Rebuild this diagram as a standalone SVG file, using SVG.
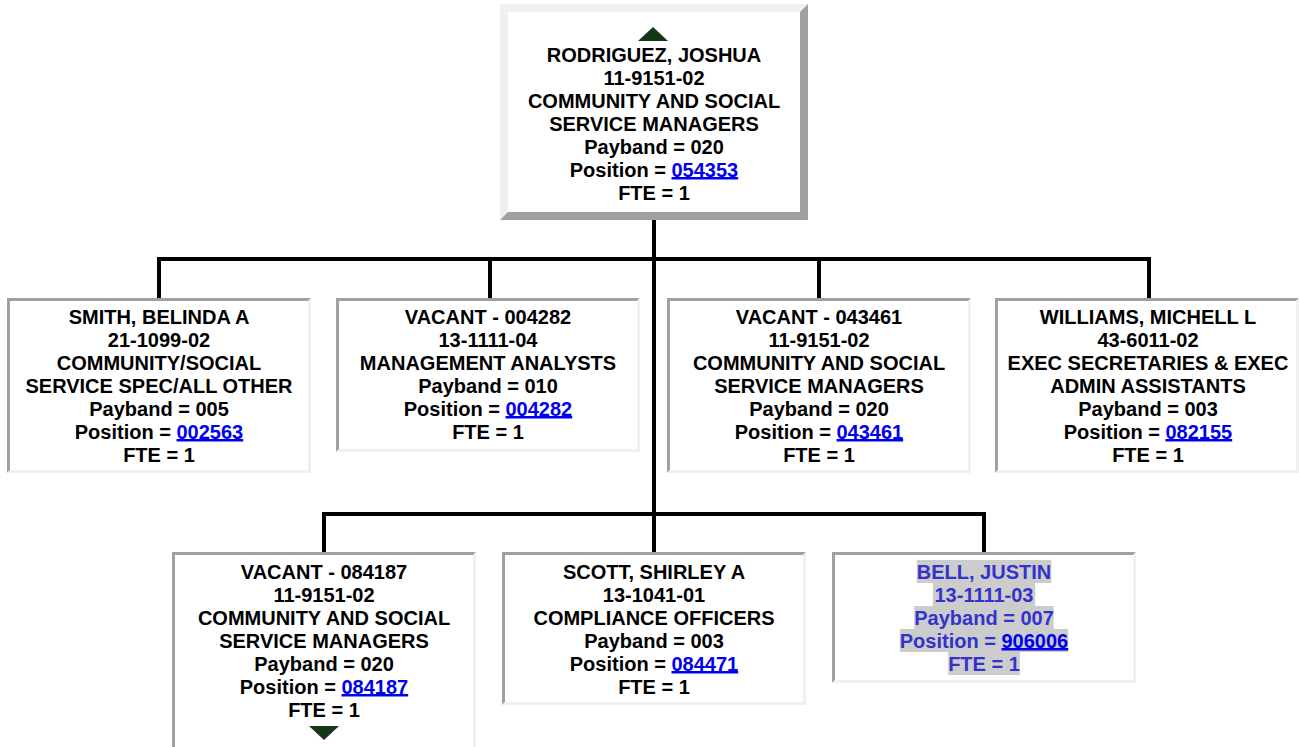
<svg xmlns="http://www.w3.org/2000/svg" width="1299" height="747" viewBox="0 0 1299 747">
<style>
.t{font-family:"Liberation Sans",Arial,Helvetica,sans-serif;font-weight:bold;font-size:20px;text-anchor:middle;fill:#000}
.lnk{fill:#0000ee}
.ul{fill:#0000ee}
.dk{fill:#a0a0a0}
.lt{fill:#f0f0f0}
.bg{fill:#ffffff}
.conn{stroke:#000;stroke-width:4;fill:none}
.tri{fill:#163616}
.bt{fill:#3333cc}
.hl{fill:#cccccc}
</style>
<rect width="1299" height="747" fill="#ffffff"/>
<g id="connectors">
<path class="conn" d="M159,298 V259 H1149 V298"/>
<path class="conn" d="M490,259 V298"/>
<path class="conn" d="M819,259 V298"/>
<path class="conn" d="M654,220 V552"/>
<path class="conn" d="M324,552 V514 H984 V552"/>
</g>
<g id="node-rodriguez">
<rect class="bg" x="508" y="12" width="292" height="200"/>
<path class="lt" d="M500,4 H808 L800,12 H508 V212 L500,220 Z"/>
<path class="dk" d="M808,4 V220 H500 L508,212 H800 V12 Z"/>
<polygon class="tri" points="653,27 638,41 668,41"/>
<text class="t" x="654" y="62">RODRIGUEZ, JOSHUA</text>
<text class="t" x="654" y="85">11-9151-02</text>
<text class="t" x="654" y="108">COMMUNITY AND SOCIAL</text>
<text class="t" x="654" y="131">SERVICE MANAGERS</text>
<text class="t" x="654" y="154">Payband = 020</text>
<text class="t" x="654" y="177">Position = <tspan class="lnk">054353</tspan></text>
<rect class="ul" x="671.5" y="177" width="66.7" height="2.5"/>
<text class="t" x="654" y="200">FTE = 1</text>
</g>
<g id="node-smith">
<rect class="bg" x="10" y="301" width="298" height="169"/>
<path class="dk" d="M7,298 H311 L308,301 H10 V470 L7,473 Z"/>
<path class="lt" d="M311,298 V473 H7 L10,470 H308 V301 Z"/>
<text class="t" x="159" y="324">SMITH, BELINDA A</text>
<text class="t" x="159" y="347">21-1099-02</text>
<text class="t" x="159" y="370">COMMUNITY/SOCIAL</text>
<text class="t" x="159" y="393">SERVICE SPEC/ALL OTHER</text>
<text class="t" x="159" y="416">Payband = 005</text>
<text class="t" x="159" y="439">Position = <tspan class="lnk">002563</tspan></text>
<rect class="ul" x="176.5" y="439" width="66.7" height="2.5"/>
<text class="t" x="159" y="462">FTE = 1</text>
</g>
<g id="node-vacant-004282">
<rect class="bg" x="339" y="301" width="298" height="148"/>
<path class="dk" d="M336,298 H640 L637,301 H339 V449 L336,452 Z"/>
<path class="lt" d="M640,298 V452 H336 L339,449 H637 V301 Z"/>
<text class="t" x="488" y="324">VACANT - 004282</text>
<text class="t" x="488" y="347">13-1111-04</text>
<text class="t" x="488" y="370">MANAGEMENT ANALYSTS</text>
<text class="t" x="488" y="393">Payband = 010</text>
<text class="t" x="488" y="416">Position = <tspan class="lnk">004282</tspan></text>
<rect class="ul" x="505.5" y="416" width="66.7" height="2.5"/>
<text class="t" x="488" y="439">FTE = 1</text>
</g>
<g id="node-vacant-043461">
<rect class="bg" x="670" y="301" width="298" height="169"/>
<path class="dk" d="M667,298 H971 L968,301 H670 V470 L667,473 Z"/>
<path class="lt" d="M971,298 V473 H667 L670,470 H968 V301 Z"/>
<text class="t" x="819" y="324">VACANT - 043461</text>
<text class="t" x="819" y="347">11-9151-02</text>
<text class="t" x="819" y="370">COMMUNITY AND SOCIAL</text>
<text class="t" x="819" y="393">SERVICE MANAGERS</text>
<text class="t" x="819" y="416">Payband = 020</text>
<text class="t" x="819" y="439">Position = <tspan class="lnk">043461</tspan></text>
<rect class="ul" x="836.5" y="439" width="66.7" height="2.5"/>
<text class="t" x="819" y="462">FTE = 1</text>
</g>
<g id="node-williams">
<rect class="bg" x="998" y="301" width="298" height="169"/>
<path class="dk" d="M995,298 H1299 L1296,301 H998 V470 L995,473 Z"/>
<path class="lt" d="M1299,298 V473 H995 L998,470 H1296 V301 Z"/>
<text class="t" x="1148" y="324">WILLIAMS, MICHELL L</text>
<text class="t" x="1148" y="347">43-6011-02</text>
<text class="t" x="1148" y="370">EXEC SECRETARIES &amp; EXEC</text>
<text class="t" x="1148" y="393">ADMIN ASSISTANTS</text>
<text class="t" x="1148" y="416">Payband = 003</text>
<text class="t" x="1148" y="439">Position = <tspan class="lnk">082155</tspan></text>
<rect class="ul" x="1165.5" y="439" width="66.7" height="2.5"/>
<text class="t" x="1148" y="462">FTE = 1</text>
</g>
<g id="node-vacant-084187">
<rect class="bg" x="175" y="555" width="298" height="194"/>
<path class="dk" d="M172,552 H476 L473,555 H175 V749 L172,752 Z"/>
<path class="lt" d="M476,552 V752 H172 L175,749 H473 V555 Z"/>
<text class="t" x="324" y="579">VACANT - 084187</text>
<text class="t" x="324" y="602">11-9151-02</text>
<text class="t" x="324" y="625">COMMUNITY AND SOCIAL</text>
<text class="t" x="324" y="648">SERVICE MANAGERS</text>
<text class="t" x="324" y="671">Payband = 020</text>
<text class="t" x="324" y="694">Position = <tspan class="lnk">084187</tspan></text>
<rect class="ul" x="341.5" y="694" width="66.7" height="2.5"/>
<text class="t" x="324" y="717">FTE = 1</text>
<polygon class="tri" points="309,726 339,726 324,740"/>
</g>
<g id="node-scott">
<rect class="bg" x="505" y="555" width="298" height="147"/>
<path class="dk" d="M502,552 H806 L803,555 H505 V702 L502,705 Z"/>
<path class="lt" d="M806,552 V705 H502 L505,702 H803 V555 Z"/>
<text class="t" x="654" y="579">SCOTT, SHIRLEY A</text>
<text class="t" x="654" y="602">13-1041-01</text>
<text class="t" x="654" y="625">COMPLIANCE OFFICERS</text>
<text class="t" x="654" y="648">Payband = 003</text>
<text class="t" x="654" y="671">Position = <tspan class="lnk">084471</tspan></text>
<rect class="ul" x="671.5" y="671" width="66.7" height="2.5"/>
<text class="t" x="654" y="694">FTE = 1</text>
</g>
<g id="node-bell">
<rect class="bg" x="835" y="555" width="298" height="125"/>
<path class="dk" d="M832,552 H1136 L1133,555 H835 V680 L832,683 Z"/>
<path class="lt" d="M1136,552 V683 H832 L835,680 H1133 V555 Z"/>
<rect class="hl" x="916.8" y="560" width="134.5" height="23"/>
<rect class="hl" x="932.9" y="583" width="102.3" height="23"/>
<rect class="hl" x="914.2" y="606" width="139.5" height="23"/>
<rect class="hl" x="899.8" y="629" width="168.4" height="23"/>
<rect class="hl" x="948.2" y="652" width="71.7" height="23"/>
<text class="t bt" x="984" y="579">BELL, JUSTIN</text>
<text class="t bt" x="984" y="602">13-1111-03</text>
<text class="t bt" x="984" y="625">Payband = 007</text>
<text class="t bt" x="984" y="648">Position = <tspan class="lnk">906006</tspan></text>
<rect class="ul" x="1001.5" y="648" width="66.7" height="2.5"/>
<text class="t bt" x="984" y="671">FTE = 1</text>
</g>
</svg>
